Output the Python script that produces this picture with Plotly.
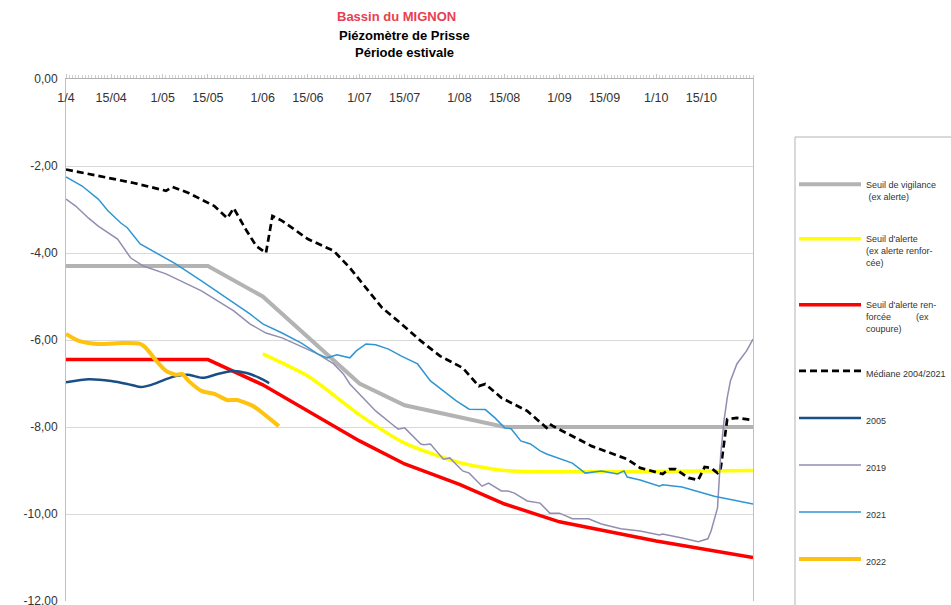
import plotly.graph_objects as go

# ---------------- data ----------------
vig_dates = ["2022-04-01", "2022-05-15", "2022-06-01", "2022-07-01", "2022-07-15", "2022-08-15", "2022-10-31"]
vig_vals = [-4.30, -4.30, -5.00, -7.00, -7.50, -8.00, -8.00]

alerte_dates = ["2022-06-01", "2022-06-15", "2022-07-01", "2022-07-15", "2022-08-01", "2022-08-15", "2022-10-31"]
alerte_vals = [-6.32, -6.83, -7.72, -8.37, -8.82, -9.00, -9.00]

renf_dates = ["2022-04-01", "2022-05-15", "2022-06-01", "2022-07-01", "2022-07-15", "2022-08-01",
              "2022-08-15", "2022-09-01", "2022-10-01", "2022-10-31"]
renf_vals = [-6.45, -6.45, -7.03, -8.32, -8.85, -9.32, -9.77, -10.18, -10.62, -11.00]

med_dates = ["2022-04-01", "2022-04-11", "2022-04-22", "2022-05-02", "2022-05-04", "2022-05-09", "2022-05-17",
             "2022-05-21", "2022-05-23", "2022-05-27", "2022-05-30", "2022-06-02", "2022-06-04", "2022-06-07",
             "2022-06-15", "2022-06-23", "2022-06-28", "2022-07-03", "2022-07-08", "2022-07-14", "2022-07-20",
             "2022-07-26", "2022-08-02", "2022-08-07", "2022-08-09", "2022-08-14", "2022-08-22", "2022-08-28",
             "2022-08-29", "2022-08-30", "2022-09-11", "2022-09-22", "2022-09-26", "2022-10-03", "2022-10-05",
             "2022-10-07", "2022-10-11", "2022-10-14", "2022-10-16", "2022-10-18", "2022-10-20", "2022-10-21",
             "2022-10-23", "2022-10-26", "2022-10-31"]
med_vals = [-2.08, -2.23, -2.39, -2.57, -2.48, -2.62, -2.92,
            -3.20, -2.97, -3.49, -3.84, -4.00, -3.15, -3.26,
            -3.68, -3.95, -4.34, -4.80, -5.26, -5.63, -6.02,
            -6.37, -6.64, -7.06, -7.01, -7.33, -7.63, -8.02,
            -7.93, -7.98, -8.44, -8.74, -8.94, -9.08, -8.97,
            -8.97, -9.17, -9.22, -8.92, -8.94, -9.06, -8.94,
            -7.82, -7.79, -7.84]

y2005_dates = ["2022-04-01", "2022-04-08", "2022-04-15", "2022-04-20", "2022-04-24", "2022-04-26", "2022-04-29",
               "2022-05-02", "2022-05-05", "2022-05-09", "2022-05-13", "2022-05-15", "2022-05-18", "2022-05-23",
               "2022-05-27", "2022-05-31", "2022-06-03"]
y2005_vals = [-6.97, -6.90, -6.94, -7.01, -7.08, -7.06, -6.99,
              -6.90, -6.83, -6.80, -6.87, -6.85, -6.78, -6.71,
              -6.76, -6.87, -6.99]

y2019_dates = ["2022-04-01", "2022-04-04", "2022-04-08", "2022-04-11", "2022-04-17", "2022-04-21", "2022-04-25",
               "2022-05-02", "2022-05-13", "2022-05-23", "2022-05-28", "2022-06-02", "2022-06-07", "2022-06-13",
               "2022-06-18", "2022-06-23", "2022-06-26", "2022-06-28", "2022-07-02", "2022-07-06", "2022-07-11",
               "2022-07-13", "2022-07-15", "2022-07-17", "2022-07-20", "2022-07-21", "2022-07-23", "2022-07-27",
               "2022-07-29", "2022-08-02", "2022-08-04", "2022-08-08", "2022-08-10", "2022-08-14", "2022-08-16",
               "2022-08-18", "2022-08-22", "2022-08-26", "2022-08-29", "2022-09-01", "2022-09-05", "2022-09-10",
               "2022-09-14", "2022-09-20", "2022-09-26", "2022-10-02", "2022-10-03", "2022-10-09", "2022-10-14",
               "2022-10-17", "2022-10-18", "2022-10-20", "2022-10-21", "2022-10-22", "2022-10-23", "2022-10-24",
               "2022-10-26", "2022-10-29", "2022-10-31"]
y2019_vals = [-2.76, -2.92, -3.20, -3.38, -3.68, -4.11, -4.30,
              -4.48, -4.87, -5.33, -5.63, -5.84, -5.95, -6.16,
              -6.32, -6.55, -6.78, -7.01, -7.33, -7.63, -7.93,
              -8.05, -8.02, -8.16, -8.39, -8.41, -8.39, -8.74,
              -8.71, -9.01, -9.06, -9.36, -9.29, -9.47, -9.47,
              -9.52, -9.70, -9.75, -9.98, -9.98, -10.11, -10.11,
              -10.23, -10.34, -10.39, -10.48, -10.46, -10.55, -10.64,
              -10.57, -10.39, -9.86, -8.62, -7.86, -7.33, -6.94,
              -6.55, -6.25, -5.98]

y2021_dates = ["2022-04-01", "2022-04-06", "2022-04-11", "2022-04-14", "2022-04-18", "2022-04-20", "2022-04-24",
               "2022-04-29", "2022-05-05", "2022-05-13", "2022-05-23", "2022-05-28", "2022-06-01", "2022-06-07",
               "2022-06-13", "2022-06-18", "2022-06-21", "2022-06-24", "2022-06-28", "2022-06-30", "2022-07-03",
               "2022-07-06", "2022-07-10", "2022-07-14", "2022-07-19", "2022-07-23", "2022-07-27", "2022-07-31",
               "2022-08-04", "2022-08-09", "2022-08-12", "2022-08-15", "2022-08-17", "2022-08-20", "2022-08-23",
               "2022-08-26", "2022-08-28", "2022-09-05", "2022-09-09", "2022-09-14", "2022-09-19", "2022-09-21",
               "2022-09-22", "2022-09-26", "2022-10-02", "2022-10-03", "2022-10-09", "2022-10-19", "2022-10-31"]
y2021_vals = [-2.25, -2.46, -2.76, -3.03, -3.31, -3.42, -3.79,
              -4.00, -4.25, -4.64, -5.15, -5.40, -5.63, -5.84,
              -6.07, -6.32, -6.41, -6.34, -6.41, -6.25, -6.09,
              -6.11, -6.21, -6.37, -6.55, -6.94, -7.17, -7.40,
              -7.59, -7.60, -7.79, -8.02, -8.04, -8.32, -8.39,
              -8.55, -8.62, -8.83, -9.06, -9.01, -9.08, -9.01,
              -9.15, -9.22, -9.36, -9.33, -9.38, -9.59, -9.77]

y2022_dates = ["2022-04-01", "2022-04-05", "2022-04-11", "2022-04-19", "2022-04-24", "2022-04-26", "2022-04-29",
               "2022-05-02", "2022-05-05", "2022-05-07", "2022-05-09", "2022-05-13", "2022-05-17", "2022-05-21",
               "2022-05-24", "2022-05-29", "2022-06-01", "2022-06-06"]
y2022_vals = [-5.86, -6.02, -6.09, -6.07, -6.09, -6.20, -6.48,
              -6.71, -6.80, -6.78, -6.94, -7.17, -7.24, -7.38,
              -7.38, -7.52, -7.68, -7.98]

tick_dates = ["2022-04-01", "2022-04-15", "2022-05-01", "2022-05-15", "2022-06-01", "2022-06-15", "2022-07-01",
              "2022-07-15", "2022-08-01", "2022-08-15", "2022-09-01", "2022-09-15", "2022-10-01", "2022-10-15"]
tick_labels = ["1/4", "15/04", "1/05", "15/05", "1/06", "15/06", "1/07",
               "15/07", "1/08", "15/08", "1/09", "15/09", "1/10", "15/10"]

y_ticks = [0, -2, -4, -6, -8, -10, -12]
y_tick_labels = ["0,00", "-2,00", "-4,00", "-6,00", "-8,00", "-10,00", "-12,00"]

title_lines = ["Bassin du MIGNON", "Piézomètre de Prisse", "Période estivale"]

# ---------------- layout geometry (px) ----------------
W, H = 951, 605
L, R, T, B = 66, 753, 79, 601
PW, PH = R - L, B - T


def px_x(p):
    return (p - L) / PW


def px_y(p):
    return (B - p) / PH


FONT = "Liberation Sans, Arial, sans-serif"
fig = go.Figure()

series = [
    ("Seuil de vigilance<br> (ex alerte)", vig_dates, vig_vals, dict(color="#b3b3b3", width=4), "linear", "x"),
    ("Seuil d'alerte<br>(ex alerte renfor-<br>cée)", alerte_dates, alerte_vals, dict(color="#ffff00", width=3.5), "spline", "x"),
    ("Seuil d'alerte ren-<br>forcée          (ex<br>coupure)", renf_dates, renf_vals, dict(color="#ff0000", width=3.5), "linear", "x"),
    ("Médiane 2004/2021", med_dates, med_vals, dict(color="#000000", width=2.7, dash="7px,4px"), "linear", "x"),
    ("2005", y2005_dates, y2005_vals, dict(color="#1a4f86", width=2.5), "spline", "x"),
    ("2019", y2019_dates, y2019_vals, dict(color="#918eb0", width=1.5), "linear", "x"),
    ("2021", y2021_dates, y2021_vals, dict(color="#2f96d3", width=1.5), "linear", "x"),
    ("2022", y2022_dates, y2022_vals, dict(color="#ffc20e", width=4), "spline", "x2"),
]

for i, (name, xs, ys, line, shape, xa) in enumerate(series):
    ln = dict(line)
    ln["shape"] = shape
    if shape == "spline":
        ln["smoothing"] = 0.6
    fig.add_trace(go.Scatter(x=xs, y=ys, mode="lines", name=name, line=ln,
                             legendgroup=f"g{i}", hoverinfo="skip", xaxis=xa))

# legend frame
fig.add_shape(type="rect", xref="paper", yref="paper",
              x0=px_x(795), x1=px_x(980),
              y0=px_y(625), y1=px_y(137),
              line=dict(color="#b3b3b3", width=1), fillcolor="rgba(0,0,0,0)", layer="below")

# title lines
title_y = [16, 36, 52]
title_x = [396, 404, 404]
title_col = ["#e8404f", "#000000", "#000000"]
for txt, tx, ty, col in zip(title_lines, title_x, title_y, title_col):
    fig.add_annotation(text=f"<b>{txt}</b>", xref="paper", yref="paper",
                       x=px_x(tx), y=px_y(ty), xanchor="center", yanchor="middle",
                       showarrow=False, font=dict(family=FONT, size=13, color=col))

x_range = ["2022-04-01", "2022-10-31"]

fig.update_layout(
    width=W, height=H,
    margin=dict(l=L, r=W - R, t=T, b=H - B, autoexpand=False),
    paper_bgcolor="white", plot_bgcolor="white",
    font=dict(family=FONT, size=12, color="#333333"),
    showlegend=True,
    legend=dict(
        x=px_x(794), xanchor="left",
        y=px_y(172), yanchor="top",
        bgcolor="rgba(0,0,0,0)", borderwidth=0,
        font=dict(family=FONT, size=9, color="#333333"),
        tracegroupgap=28, itemwidth=62, valign="top",
        traceorder="grouped",
    ),
    xaxis=dict(
        type="date", side="top", range=x_range,
        tickmode="array", tickvals=tick_dates, showticklabels=False,
        ticks="outside", ticklen=4, tickcolor="#c8c8c8",
        minor=dict(dtick=86400000, ticks="outside", ticklen=3, tickcolor="#d0d0d0"),
        showline=True, linecolor="#b3b3b3", linewidth=1,
        showgrid=False, zeroline=False, automargin=False,
        fixedrange=True,
    ),
    xaxis2=dict(
        type="date", overlaying="x", anchor="free", position=1, side="bottom",
        range=x_range, tickmode="array", tickvals=tick_dates, ticktext=tick_labels,
        ticks="", showline=False, showgrid=False, zeroline=False,
        ticklabelstandoff=9, automargin=False, ticklabeloverflow="allow",
        tickfont=dict(family=FONT, size=12.5, color="#333333"),
        fixedrange=True,
    ),
    yaxis=dict(
        range=[-12, 0], tickmode="array", tickvals=y_ticks, ticktext=y_tick_labels,
        showgrid=True, gridcolor="#d9d9d9", gridwidth=1,
        showline=True, linecolor="#c0c0c0", linewidth=1, mirror=True,
        zeroline=False, ticks="", ticklabelstandoff=5, automargin=False,
        ticklabeloverflow="allow",
        tickfont=dict(family=FONT, size=12, color="#333333"),
        fixedrange=True,
    ),
)

fig.write_html("out.html", config={"displayModeBar": False},
               post_script="document.body.style.margin='0';")
